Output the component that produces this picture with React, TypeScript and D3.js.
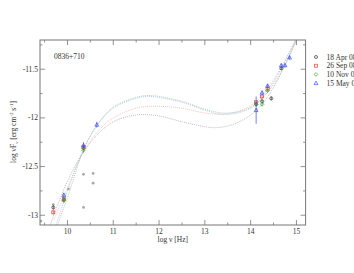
import { useEffect, useRef } from "react";
import * as d3 from "d3";

// epochs (x = log nu, y = log nuFnu, e = error)
const epochNames = ["18 Apr 08", "26 Sep 08", "10 Nov 08", "15 May 09"];
const epochColors = ["#333333", "#e8413c", "#3aaa35", "#3a4ff0"];
const epochSymbols = ["circle", "square", "diamond", "triangle"];

const aprX = [9.69, 9.92, 10.35, 14.12, 14.25, 14.45, 14.67];
const aprY = [-12.92, -12.84, -12.31, -11.86, -11.83, -11.8, -11.49];
const aprE = [0.02, 0.02, 0.02, 0.02, 0.02, 0.02, 0.02];

const sepX = [9.69, 9.92, 10.35, 14.12, 14.25, 14.37];
const sepY = [-12.97, -12.83, -12.3, -11.84, -11.78, -11.7];
const sepE = [0.02, 0.02, 0.02, 0.02, 0.02, 0.02];

const novX = [9.92, 10.35, 14.12, 14.25, 14.37];
const novY = [-12.85, -12.33, -11.86, -11.86, -11.72];
const novE = [0.02, 0.03, 0.02, 0.02, 0.02];

const mayX = [9.92, 10.35, 10.64, 14.12, 14.25, 14.37, 14.67, 14.75, 14.85];
const mayY = [-12.79, -12.28, -12.07, -11.92, -11.74, -11.67, -11.46, -11.46, -11.38];
const mayE = [0.02, 0.03, 0.03, 0.14, 0.02, 0.02, 0.02, 0.02, 0.02];

// archival points (light grey)
const archX = [9.42, 9.69, 10.02, 10.35, 10.56, 10.56, 10.35];
const archY = [-13.06, -12.89, -12.73, -12.58, -12.57, -12.67, -12.92];

// fitted curves
const curveGreyX = [9.62, 10, 10.35, 10.7, 11, 11.5, 12, 12.5, 13, 13.25, 13.6, 14, 14.3, 14.6, 15];
const curveGreyY = [-13.1, -12.65, -12.35, -12.15, -12.04, -11.97, -11.98, -12.04, -12.09, -12.1, -12.07, -11.97, -11.83, -11.6, -11.2];
const curveRedX = [9.7, 10, 10.35, 10.7, 11, 11.5, 11.85, 12.5, 13, 13.4, 13.8, 14.1, 14.4, 14.7, 15];
const curveRedY = [-13.05, -12.72, -12.35, -12.12, -12.0, -11.9, -11.88, -11.9, -11.95, -11.96, -11.92, -11.84, -11.68, -11.45, -11.18];
const curveGreenX = [9.78, 10, 10.35, 10.64, 11, 11.5, 11.8, 12.5, 13, 13.4, 13.8, 14.1, 14.4, 14.7, 15];
const curveGreenY = [-13.1, -12.82, -12.33, -12.08, -11.89, -11.79, -11.77, -11.83, -11.91, -11.95, -11.93, -11.86, -11.72, -11.5, -11.2];
const curveBlueX = [9.75, 10, 10.35, 10.64, 11, 11.5, 11.75, 12, 12.5, 13, 13.3, 13.6, 14, 14.3, 14.6, 14.9, 15];
const curveBlueY = [-13.1, -12.75, -12.32, -12.08, -11.9, -11.8, -11.78, -11.79, -11.84, -11.92, -11.96, -11.96, -11.9, -11.77, -11.55, -11.28, -11.19];

const xTicks = [10, 11, 12, 13, 14, 15];
const yTicks = [-11.5, -12, -12.5, -13];

export default function App() {
  const ref = useRef<SVGSVGElement>(null);

  useEffect(() => {
    const W = 354, H = 273;
    const margin = { top: 40, right: 48.4, bottom: 48, left: 40 };
    const svg = d3.select(ref.current);
    svg.selectAll("*").remove();

    const x = d3.scaleLinear().domain([9.4, 15.2]).range([margin.left, W - margin.right]);
    const y = d3.scaleLinear().domain([-13.1, -11.2]).range([H - margin.bottom, margin.top]);
    const axisColor = "#777";
    const font = "'Liberation Serif', 'DejaVu Serif', serif";
    const textColor = "#333";

    const defs = svg.append("defs");
    defs.append("clipPath").attr("id", "plotclip")
      .append("rect")
      .attr("x", x(9.4)).attr("y", y(-11.2))
      .attr("width", x(15.2) - x(9.4)).attr("height", y(-13.1) - y(-11.2));

    // fitted curves
    const curves = [
      { xs: curveGreyX, ys: curveGreyY, c: "#9a9a9a" },
      { xs: curveRedX, ys: curveRedY, c: "#f2a0a0" },
      { xs: curveGreenX, ys: curveGreenY, c: "#80c080" },
      { xs: curveBlueX, ys: curveBlueY, c: "#90aef0" },
    ];
    const line = d3.line<[number, number]>()
      .x(d => x(d[0])).y(d => y(d[1]))
      .curve(d3.curveCatmullRom);
    const g = svg.append("g").attr("clip-path", "url(#plotclip)");
    curves.forEach(cv => {
      g.append("path")
        .attr("d", line(cv.xs.map((v, i) => [v, cv.ys[i]] as [number, number])))
        .attr("fill", "none")
        .attr("stroke", cv.c)
        .attr("stroke-width", 0.7)
        .attr("stroke-dasharray", "0.9,1.1");
    });

    // archival points
    g.selectAll("circle.arch")
      .data(archX.map((v, i) => [v, archY[i]]))
      .enter().append("circle")
      .attr("cx", d => x(d[0])).attr("cy", d => y(d[1]))
      .attr("r", 1.4).attr("fill", "#a8a8a8");

    // symbols
    const sym = (sel: any, type: string, cx: number, cy: number, color: string) => {
      const s = 1.5;
      const w = 0.7;
      if (type === "circle") {
        sel.append("circle").attr("cx", cx).attr("cy", cy).attr("r", s)
          .attr("fill", "none").attr("stroke", color).attr("stroke-width", w);
      } else if (type === "square") {
        sel.append("rect").attr("x", cx - s).attr("y", cy - s).attr("width", 2 * s).attr("height", 2 * s)
          .attr("fill", "none").attr("stroke", color).attr("stroke-width", w);
      } else if (type === "diamond") {
        sel.append("path").attr("d", `M${cx},${cy - s - 0.4}L${cx + s + 0.4},${cy}L${cx},${cy + s + 0.4}L${cx - s - 0.4},${cy}Z`)
          .attr("fill", "none").attr("stroke", color).attr("stroke-width", w);
      } else {
        sel.append("path").attr("d", `M${cx},${cy - s - 0.4}L${cx + s + 0.4},${cy + s}L${cx - s - 0.4},${cy + s}Z`)
          .attr("fill", "none").attr("stroke", color).attr("stroke-width", w);
      }
    };

    const epochs = [
      { xs: aprX, ys: aprY, es: aprE },
      { xs: sepX, ys: sepY, es: sepE },
      { xs: novX, ys: novY, es: novE },
      { xs: mayX, ys: mayY, es: mayE },
    ];
    epochs.forEach((ep, k) => {
      ep.xs.forEach((v, i) => {
        g.append("line")
          .attr("x1", x(v)).attr("x2", x(v))
          .attr("y1", y(ep.ys[i] - ep.es[i])).attr("y2", y(ep.ys[i] + ep.es[i]))
          .attr("stroke", epochColors[k]).attr("stroke-width", 0.7);
        sym(g, epochSymbols[k], x(v), y(ep.ys[i]), epochColors[k]);
      });
    });

    // frame
    svg.append("rect")
      .attr("x", x(9.4)).attr("y", y(-11.2))
      .attr("width", x(15.2) - x(9.4)).attr("height", y(-13.1) - y(-11.2))
      .attr("fill", "none").attr("stroke", axisColor).attr("stroke-width", 1);

    // ticks (inward on all four sides)
    const xMinor = d3.range(9.5, 15.2, 1);
    const tk = svg.append("g").attr("stroke", axisColor).attr("stroke-width", 0.8);
    xTicks.forEach(t => {
      tk.append("line").attr("x1", x(t)).attr("x2", x(t)).attr("y1", y(-13.1)).attr("y2", y(-13.1) - 5);
      tk.append("line").attr("x1", x(t)).attr("x2", x(t)).attr("y1", y(-11.2)).attr("y2", y(-11.2) + 5);
    });
    xMinor.forEach(t => {
      tk.append("line").attr("x1", x(t)).attr("x2", x(t)).attr("y1", y(-13.1)).attr("y2", y(-13.1) - 2.5);
      tk.append("line").attr("x1", x(t)).attr("x2", x(t)).attr("y1", y(-11.2)).attr("y2", y(-11.2) + 2.5);
    });
    const yMinor = [-11.25, -11.75, -12.25, -12.75];
    yTicks.forEach(t => {
      tk.append("line").attr("x1", x(9.4)).attr("x2", x(9.4) + 5).attr("y1", y(t)).attr("y2", y(t));
      tk.append("line").attr("x1", x(15.2)).attr("x2", x(15.2) - 5).attr("y1", y(t)).attr("y2", y(t));
    });
    yMinor.forEach(t => {
      tk.append("line").attr("x1", x(9.4)).attr("x2", x(9.4) + 2.5).attr("y1", y(t)).attr("y2", y(t));
      tk.append("line").attr("x1", x(15.2)).attr("x2", x(15.2) - 2.5).attr("y1", y(t)).attr("y2", y(t));
    });

    // tick labels
    svg.selectAll("text.xt").data(xTicks).enter().append("text")
      .attr("x", d => x(d)).attr("y", y(-13.1) + 9)
      .attr("text-anchor", "middle").attr("font-family", font).attr("font-size", 7.5)
      .attr("fill", textColor).text(d => String(d));
    svg.selectAll("text.yt").data(yTicks).enter().append("text")
      .attr("x", x(9.4) - 2).attr("y", d => y(d) + 2.5)
      .attr("text-anchor", "end").attr("font-family", font).attr("font-size", 7.5)
      .attr("fill", textColor).text(d => String(d));

    // axis titles
    svg.append("text")
      .attr("x", x(12.3)).attr("y", y(-13.1) + 17)
      .attr("text-anchor", "middle").attr("font-family", font).attr("font-size", 7.5)
      .attr("fill", textColor).text("log \u03bd [Hz]");
    const yl = svg.append("text")
      .attr("transform", `translate(16,${132}) rotate(-90)`)
      .attr("text-anchor", "middle").attr("font-family", font).attr("font-size", 7.5)
      .attr("fill", textColor);
    yl.append("tspan").text("log \u03bdF");
    yl.append("tspan").attr("font-size", 5).attr("dy", 1.5).text("\u03bd");
    yl.append("tspan").attr("dy", -1.5).text(" [erg cm");
    yl.append("tspan").attr("font-size", 5).attr("dy", -3).text("-2");
    yl.append("tspan").attr("dy", 3).text(" s");
    yl.append("tspan").attr("font-size", 5).attr("dy", -3).text("-1");
    yl.append("tspan").attr("dy", 3).text("]");

    // source name
    svg.append("text")
      .attr("x", 54).attr("y", 59)
      .attr("font-family", font).attr("font-size", 7.5)
      .attr("fill", textColor).text("0836+710");

    // legend (runs off the right edge, as in the original)
    epochNames.forEach((n, k) => {
      const ly = 59 + k * 8.7;
      sym(svg, epochSymbols[k], 316, ly - 2, epochColors[k]);
      svg.append("text")
        .attr("x", 326.5).attr("y", ly + 0.5)
        .attr("font-family", font).attr("font-size", 7.5)
        .attr("fill", textColor).text(n);
    });
  }, []);

  return (
    <div style={{ position: "fixed", left: 0, top: 0 }}>
      <svg ref={ref} width={354} height={273} style={{ display: "block", background: "#fff" }} />
    </div>
  );
}
